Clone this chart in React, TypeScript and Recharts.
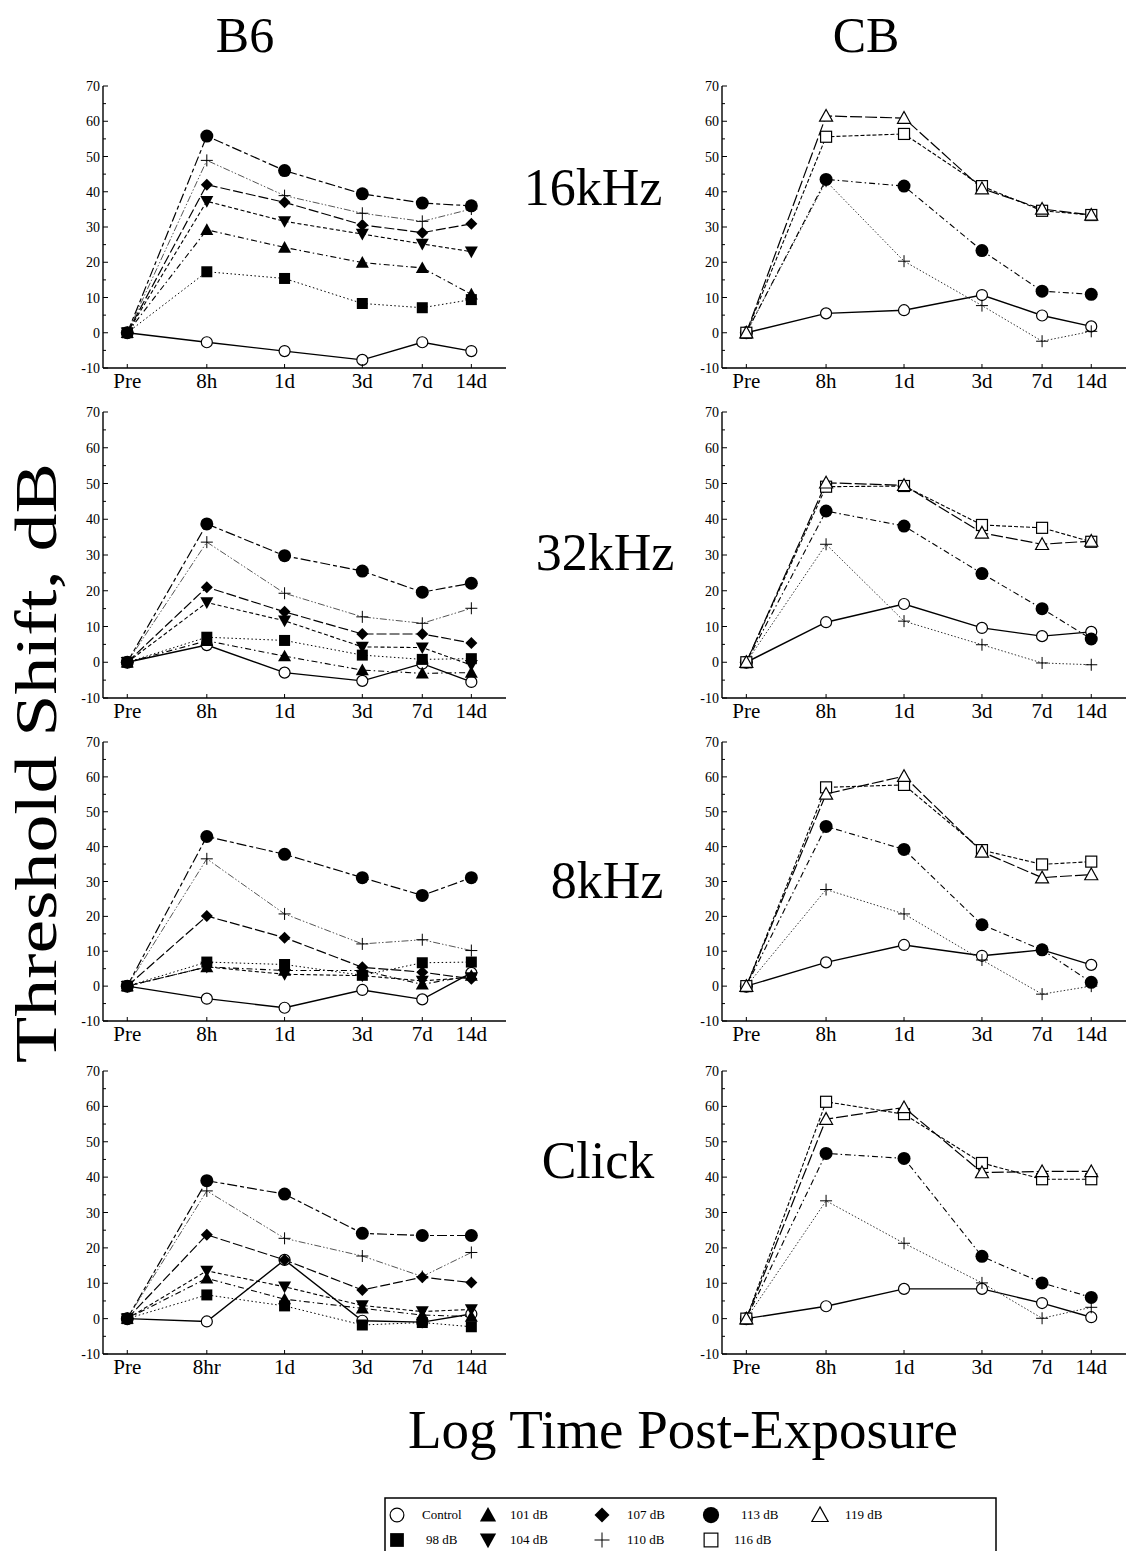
import React from "react"
import { LineChart, Line, XAxis, YAxis } from "recharts"

// time points: hours after exposure, drawn on a log axis ("Pre" sits just before 8h)
const timeLabels = ["Pre", "8h", "1d", "3d", "7d", "14d"]
const clickTimeLabels = ["Pre", "8hr", "1d", "3d", "7d", "14d"]
const timeHours = [2.6, 8, 24, 72, 168, 336]
const yTicks = [-10, -5, 0, 5, 10, 15, 20, 25, 30, 35, 40, 45, 50, 55, 60, 65, 70]

// B6, 16kHz
const b6k16Control = [0, -2.7, -5.2, -7.7, -2.7, -5.2]
const b6k16Db98 = [0, 17.3, 15.4, 8.3, 7.1, 9.4]
const b6k16Db101 = [0, 29.2, 24.2, 19.9, 18.4, 10.9]
const b6k16Db104 = [0, 37.3, 31.6, 28.0, 25.2, 23.0]
const b6k16Db107 = [0, 42.0, 37.0, 30.6, 28.4, 30.9]
const b6k16Db110 = [0, 48.9, 38.9, 33.9, 31.6, 35.1]
const b6k16Db113 = [0, 55.8, 46.0, 39.4, 36.8, 36.0]

// CB, 16kHz
const cbk16Control = [0, 5.5, 6.4, 10.7, 4.9, 1.8]
const cbk16Db110 = [0, 43.0, 20.3, 7.7, -2.4, 0.4]
const cbk16Db113 = [0, 43.5, 41.6, 23.3, 11.8, 10.9]
const cbk16Db116 = [0, 55.6, 56.4, 41.6, 34.6, 33.4]
const cbk16Db119 = [0, 61.5, 60.9, 40.9, 35.1, 33.4]

// B6, 32kHz
const b6k32Control = [0, 4.8, -2.9, -5.2, -0.4, -5.5]
const b6k32Db98 = [0, 7.0, 6.1, 2.0, 0.8, 1.0]
const b6k32Db101 = [0, 6.0, 1.7, -2.2, -3.1, -2.9]
const b6k32Db104 = [0, 16.7, 11.6, 4.3, 4.1, -0.8]
const b6k32Db107 = [0, 21.0, 14.1, 7.9, 7.9, 5.4]
const b6k32Db110 = [0, 33.6, 19.3, 12.7, 10.9, 15.1]
const b6k32Db113 = [0, 38.7, 29.8, 25.5, 19.6, 22.1]

// CB, 32kHz
const cbk32Control = [0, 11.2, 16.3, 9.6, 7.3, 8.5]
const cbk32Db110 = [0, 33.0, 11.5, 4.9, -0.2, -0.7]
const cbk32Db113 = [0, 42.3, 38.1, 24.8, 15.0, 6.5]
const cbk32Db116 = [0, 49.1, 49.3, 38.4, 37.6, 33.7]
const cbk32Db119 = [0, 50.2, 49.5, 36.2, 33.0, 33.9]

// B6, 8kHz
const b6k8Control = [0, -3.6, -6.2, -1.1, -3.8, 3.8]
const b6k8Db98 = [0, 6.9, 6.2, 3.1, 6.7, 6.9]
const b6k8Db101 = [0, 5.5, 4.5, 4.5, 0.5, 3.0]
const b6k8Db104 = [0, 5.5, 3.4, 3.0, 1.5, 2.5]
const b6k8Db107 = [0, 20.1, 13.9, 5.4, 4.0, 2.1]
const b6k8Db110 = [0, 36.5, 20.7, 12.1, 13.3, 10.2]
const b6k8Db113 = [0, 42.9, 37.8, 31.1, 26.0, 31.1]

// CB, 8kHz
const cbk8Control = [0, 6.8, 11.8, 8.7, 10.4, 6.1]
const cbk8Db110 = [0, 27.7, 20.7, 7.5, -2.3, 0]
const cbk8Db113 = [0, 45.8, 39.2, 17.6, 10.4, 1.1]
const cbk8Db116 = [0, 57.0, 57.7, 39.0, 34.9, 35.7]
const cbk8Db119 = [0, 55.1, 60.2, 38.5, 31.1, 32.0]

// B6, Click
const b6ClickControl = [0, -0.8, 16.6, -0.6, -1.0, 1.3]
const b6ClickDb98 = [0, 6.7, 3.6, -1.8, -1.1, -2.3]
const b6ClickDb101 = [0, 11.4, 5.5, 2.9, 1.0, 0.6]
const b6ClickDb104 = [0, 13.5, 9.0, 3.7, 2.0, 2.6]
const b6ClickDb107 = [0, 23.7, 16.6, 8.1, 11.7, 10.2]
const b6ClickDb110 = [0, 36.1, 22.7, 17.7, 11.9, 18.7]
const b6ClickDb113 = [0, 39.0, 35.2, 24.1, 23.5, 23.5]

// CB, Click
const cbClickControl = [0, 3.5, 8.4, 8.4, 4.4, 0.4]
const cbClickDb110 = [0, 33.3, 21.3, 10.1, 0.1, 3.2]
const cbClickDb113 = [0, 46.7, 45.3, 17.6, 10.1, 6.0]
const cbClickDb116 = [0, 61.3, 57.8, 44.0, 39.4, 39.4]
const cbClickDb119 = [0, 56.4, 59.7, 41.3, 41.6, 41.6]

const SERIF = "'Liberation Serif', 'Times New Roman', 'DejaVu Serif', serif"

type Shape = "circleOpen" | "square" | "triUp" | "triDown" | "diamond" | "plus" | "circle" | "squareOpen" | "triOpen"

interface Style {
  shape: Shape
  dash?: string
  width: number
  color: string
}

const control: Style = { shape: "circleOpen", width: 1.4, color: "#000" }
const s98: Style = { shape: "square", dash: "1.5 2.5", width: 1, color: "#000" }
const s101: Style = { shape: "triUp", dash: "6 3 1.5 3", width: 1.1, color: "#000" }
const s104: Style = { shape: "triDown", dash: "4 2.5", width: 1.1, color: "#000" }
const s107: Style = { shape: "diamond", dash: "10 3", width: 1.2, color: "#000" }
const s110b6: Style = { shape: "plus", dash: "7 2 1.5 2 1.5 2", width: 1, color: "#555" }
const s110cb: Style = { shape: "plus", dash: "1.5 2", width: 1, color: "#333" }
const s113b6: Style = { shape: "circle", dash: "10 3 4 3", width: 1.2, color: "#000" }
const s113cb: Style = { shape: "circle", dash: "6 3 1.5 3", width: 1.1, color: "#000" }
const s116: Style = { shape: "squareOpen", dash: "4 2", width: 1.1, color: "#000" }
const s119: Style = { shape: "triOpen", dash: "12 3", width: 1.2, color: "#000" }

function marker(shape: Shape, cx: number, cy: number, key: string, k = 1) {
  const sw = 1.2
  switch (shape) {
    case "circleOpen":
      return <circle key={key} cx={cx} cy={cy} r={5.5 * k} fill="#fff" stroke="#000" strokeWidth={sw} />
    case "circle":
      return <circle key={key} cx={cx} cy={cy} r={6.5 * k} fill="#000" />
    case "square": {
      const h = 5.5 * k
      return <rect key={key} x={cx - h} y={cy - h} width={2 * h} height={2 * h} fill="#000" />
    }
    case "squareOpen": {
      const h = 5.5 * k
      return <rect key={key} x={cx - h} y={cy - h} width={2 * h} height={2 * h} fill="#fff" stroke="#000" strokeWidth={sw} />
    }
    case "triUp": {
      const h = 6.5 * k
      return <polygon key={key} points={`${cx},${cy - h} ${cx + h},${cy + h * 0.8} ${cx - h},${cy + h * 0.8}`} fill="#000" />
    }
    case "triDown": {
      const h = 6.5 * k
      return <polygon key={key} points={`${cx},${cy + h} ${cx + h},${cy - h * 0.8} ${cx - h},${cy - h * 0.8}`} fill="#000" />
    }
    case "triOpen": {
      const h = 6.5 * k
      return <polygon key={key} points={`${cx},${cy - h} ${cx + h},${cy + h * 0.8} ${cx - h},${cy + h * 0.8}`} fill="#fff" stroke="#000" strokeWidth={sw} />
    }
    case "diamond": {
      const h = 6 * k
      return <polygon key={key} points={`${cx},${cy - h} ${cx + h},${cy} ${cx},${cy + h} ${cx - h},${cy}`} fill="#000" />
    }
    case "plus": {
      const h = 6 * k
      return (
        <g key={key} stroke="#000" strokeWidth={1}>
          <line x1={cx - h} y1={cy} x2={cx + h} y2={cy} />
          <line x1={cx} y1={cy - h} x2={cx} y2={cy + h} />
        </g>
      )
    }
  }
}

const ML = 50
const MR = 8
const MT = 10
const MB = 40
const xMin = 0.266
const xMax = 2.739

function YTick(props: any) {
  const { x, y, payload } = props
  const v = payload.value as number
  const major = v % 10 === 0
  return (
    <g>
      <line x1={x} y1={y} x2={x + (major ? 5 : 3)} y2={y} stroke="#000" strokeWidth={1} />
      {major && (
        <text x={x - 3} y={y + 5} textAnchor="end" fontSize={14} fontFamily={SERIF} fill="#000">
          {v}
        </text>
      )}
    </g>
  )
}

function makeXTick(labels: string[]) {
  return function XTick(props: any) {
    const { x, y, index } = props
    return (
      <g>
        <line x1={x} y1={y} x2={x} y2={y - 4} stroke="#000" strokeWidth={1} />
        <text x={x} y={y + 20} textAnchor="middle" fontSize={21} fontFamily={SERIF} fill="#000">
          {labels[index]}
        </text>
      </g>
    )
  }
}

interface SeriesDef {
  name: string
  values: number[]
  style: Style
}

function Panel({ left, top, width, height, labels, series }: { left: number; top: number; width: number; height: number; labels: string[]; series: SeriesDef[] }) {
  const data = timeHours.map((h, i) => {
    const row: Record<string, number> = { x: Math.log10(h) }
    series.forEach((s) => {
      row[s.name] = s.values[i]
    })
    return row
  })
  const XTick = makeXTick(labels)
  return (
    <div style={{ position: "absolute", left: left - ML, top: top - MT }}>
      <LineChart width={width + ML + MR} height={height + MT + MB} data={data} margin={{ top: MT, right: MR, bottom: 0, left: 0 }}>
        <XAxis
          type="number"
          dataKey="x"
          domain={[xMin, xMax]}
          ticks={timeHours.map((h) => Math.log10(h))}
          interval={0}
          tick={<XTick />}
          tickLine={false}
          tickSize={0}
          tickMargin={0}
          height={MB}
          axisLine={{ stroke: "#000", strokeWidth: 1.4 }}
          allowDataOverflow
        />
        <YAxis
          type="number"
          domain={[-10, 70]}
          ticks={yTicks}
          interval={0}
          width={ML}
          tick={<YTick />}
          tickLine={false}
          tickSize={0}
          tickMargin={0}
          axisLine={{ stroke: "#000", strokeWidth: 1.4 }}
          allowDataOverflow
        />
        {series.map((s) => (
          <Line
            key={s.name}
            dataKey={s.name}
            type="linear"
            stroke={s.style.color}
            strokeWidth={s.style.width}
            strokeDasharray={s.style.dash}
            dot={(p: any) => marker(s.style.shape, p.cx, p.cy, `${s.name}-${p.index}`)}
            activeDot={false}
            isAnimationActive={false}
          />
        ))}
      </LineChart>
    </div>
  )
}

const b6 = (c: number[], d98: number[], d101: number[], d104: number[], d107: number[], d110: number[], d113: number[]): SeriesDef[] => [
  { name: "Control", values: c, style: control },
  { name: "113 dB", values: d113, style: s113b6 },
  { name: "110 dB", values: d110, style: s110b6 },
  { name: "107 dB", values: d107, style: s107 },
  { name: "104 dB", values: d104, style: s104 },
  { name: "101 dB", values: d101, style: s101 },
  { name: "98 dB", values: d98, style: s98 },
]

const cb = (c: number[], d110: number[], d113: number[], d116: number[], d119: number[]): SeriesDef[] => [
  { name: "Control", values: c, style: control },
  { name: "110 dB", values: d110, style: s110cb },
  { name: "113 dB", values: d113, style: s113cb },
  { name: "116 dB", values: d116, style: s116 },
  { name: "119 dB", values: d119, style: s119 },
]

const rows = [
  { top: 86, height: 282 },
  { top: 412, height: 286 },
  { top: 742, height: 279 },
  { top: 1071, height: 283 },
]

const legendTop: [Shape, string, number][] = [
  ["circleOpen", "Control", 0],
  ["triUp", "101 dB", 1],
  ["diamond", "107 dB", 2],
  ["circle", "113 dB", 3],
  ["triOpen", "119 dB", 4],
]
const legendBottom: [Shape, string, number][] = [
  ["square", "98 dB", 0],
  ["triDown", "104 dB", 1],
  ["plus", "110 dB", 2],
  ["squareOpen", "116 dB", 3],
]
const legendSymX = [397, 488, 602, 711, 820]
const legendTextX = [[422, 510, 627, 741, 845], [426, 510, 627, 734]]

export default function App() {
  return (
    <div style={{ position: "absolute", left: 0, top: 0, width: 1132, height: 1551, background: "#fff", overflow: "hidden" }}>
      <svg width={1132} height={1551} style={{ position: "absolute", left: 0, top: 0 }}>
        <g fontFamily={SERIF} fill="#000">
          <text x={245} y={52} fontSize={50} textAnchor="middle">B6</text>
          <text x={866} y={52} fontSize={50} textAnchor="middle">CB</text>
          <text x={593} y={205} fontSize={52} textAnchor="middle">16kHz</text>
          <text x={605} y={570} fontSize={52} textAnchor="middle">32kHz</text>
          <text x={607} y={898} fontSize={52} textAnchor="middle">8kHz</text>
          <text x={598} y={1178} fontSize={52} textAnchor="middle">Click</text>
          <text x={683} y={1448} fontSize={55} textAnchor="middle">Log Time Post-Exposure</text>
          <text x={0} y={0} fontSize={60} textAnchor="middle" textLength={600} lengthAdjust="spacingAndGlyphs" transform="translate(56 763) rotate(-90)">
            Threshold Shift, dB
          </text>
        </g>
        <rect x={385} y={1498} width={611} height={60} fill="none" stroke="#000" strokeWidth={1.5} />
        {legendTop.map(([shape, label, i]) => (
          <g key={label}>
            {marker(shape, legendSymX[i], 1515, `lt-${i}`, 1.25)}
            <text x={legendTextX[0][i]} y={1519} fontSize={13} fontFamily={SERIF}>{label}</text>
          </g>
        ))}
        {legendBottom.map(([shape, label, i]) => (
          <g key={label}>
            {marker(shape, legendSymX[i], 1540, `lb-${i}`, 1.25)}
            <text x={legendTextX[1][i]} y={1544} fontSize={13} fontFamily={SERIF}>{label}</text>
          </g>
        ))}
      </svg>

      <Panel left={103} top={rows[0].top} width={403} height={rows[0].height} labels={timeLabels}
        series={b6(b6k16Control, b6k16Db98, b6k16Db101, b6k16Db104, b6k16Db107, b6k16Db110, b6k16Db113)} />
      <Panel left={722} top={rows[0].top} width={404} height={rows[0].height} labels={timeLabels}
        series={cb(cbk16Control, cbk16Db110, cbk16Db113, cbk16Db116, cbk16Db119)} />

      <Panel left={103} top={rows[1].top} width={403} height={rows[1].height} labels={timeLabels}
        series={b6(b6k32Control, b6k32Db98, b6k32Db101, b6k32Db104, b6k32Db107, b6k32Db110, b6k32Db113)} />
      <Panel left={722} top={rows[1].top} width={404} height={rows[1].height} labels={timeLabels}
        series={cb(cbk32Control, cbk32Db110, cbk32Db113, cbk32Db116, cbk32Db119)} />

      <Panel left={103} top={rows[2].top} width={403} height={rows[2].height} labels={timeLabels}
        series={b6(b6k8Control, b6k8Db98, b6k8Db101, b6k8Db104, b6k8Db107, b6k8Db110, b6k8Db113)} />
      <Panel left={722} top={rows[2].top} width={404} height={rows[2].height} labels={timeLabels}
        series={cb(cbk8Control, cbk8Db110, cbk8Db113, cbk8Db116, cbk8Db119)} />

      <Panel left={103} top={rows[3].top} width={403} height={rows[3].height} labels={clickTimeLabels}
        series={b6(b6ClickControl, b6ClickDb98, b6ClickDb101, b6ClickDb104, b6ClickDb107, b6ClickDb110, b6ClickDb113)} />
      <Panel left={722} top={rows[3].top} width={404} height={rows[3].height} labels={timeLabels}
        series={cb(cbClickControl, cbClickDb110, cbClickDb113, cbClickDb116, cbClickDb119)} />
    </div>
  )
}
